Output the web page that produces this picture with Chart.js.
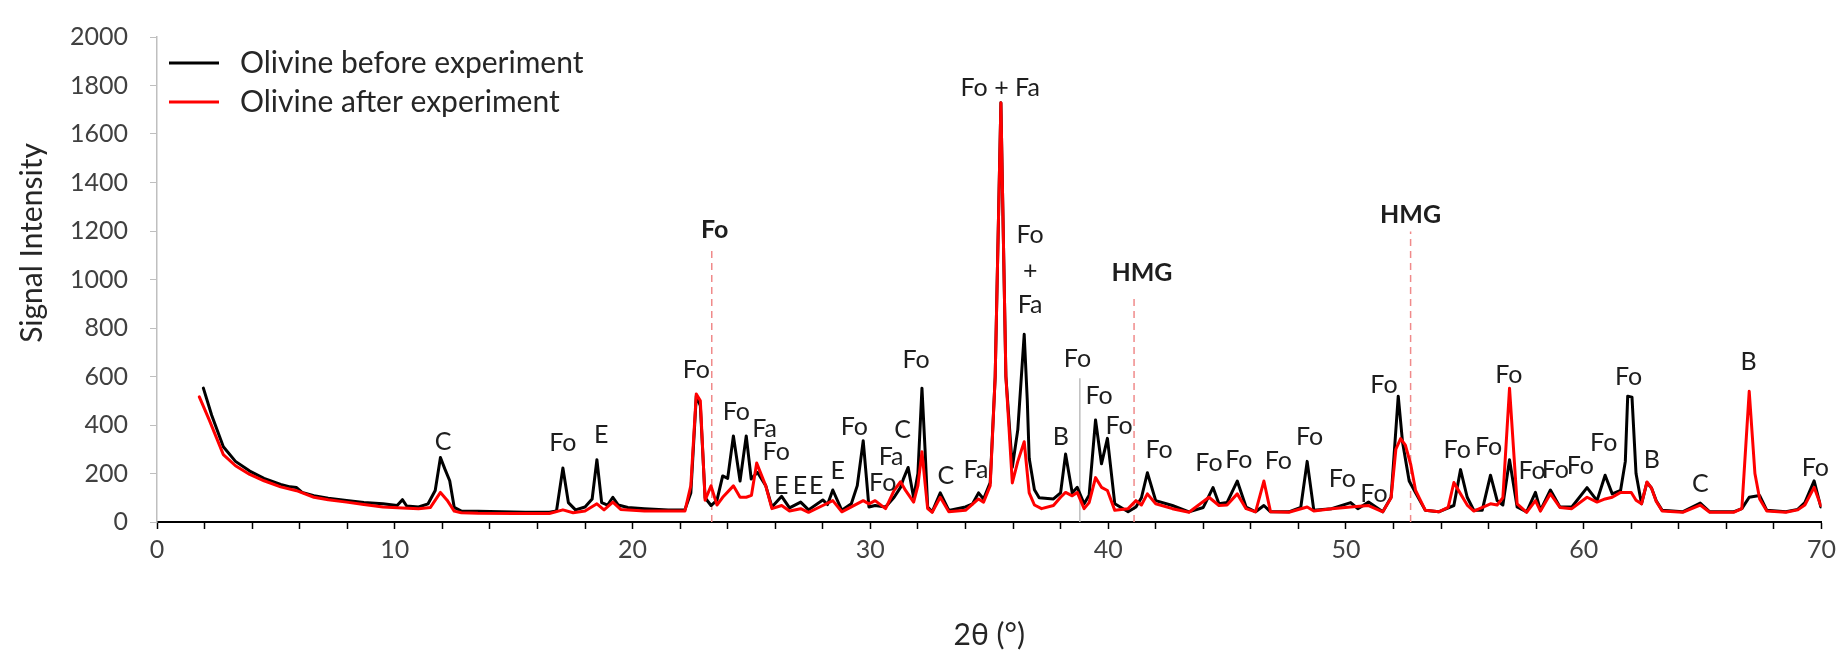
<!DOCTYPE html>
<html>
<head>
<meta charset="utf-8">
<title>Olivine XRD</title>
<script src="https://cdn.jsdelivr.net/npm/chart.js@4.4.1/dist/chart.umd.min.js"></script>
<style>
  html, body { margin: 0; padding: 0; background: #fff; }
  #wrap { width: 1842px; height: 653px; }
</style>
</head>
<body>
<div id="wrap"><canvas id="xrd"></canvas></div>
<script>
// ---- diffractogram, olivine before experiment (2θ in °, counts) ----
const beforeTheta = [1.95, 2.3, 2.79, 3.3, 3.9, 4.5, 5.2, 5.6, 5.87, 6.1, 6.6, 7.2, 7.97, 8.7, 9.5, 10.1, 10.32, 10.5,
  11.0, 11.4, 11.7, 11.92, 12.1, 12.31, 12.5, 12.8, 13.5, 14.5, 15.5, 16.5, 16.8, 17.07, 17.3, 17.6, 18.0, 18.3, 18.5,
  18.7, 18.95, 19.17, 19.4, 19.8, 20.5, 21.5, 22.2, 22.45, 22.68, 22.85, 23.05, 23.3, 23.55, 23.79, 24.0, 24.24, 24.52,
  24.78, 24.99, 25.25, 25.6, 25.86, 26.27, 26.6, 27.07, 27.4, 28.0, 28.2, 28.42, 28.8, 29.2, 29.45, 29.7, 29.94, 30.2,
  30.64, 31.0, 31.27, 31.4, 31.59, 31.82, 32.0, 32.17, 32.3, 32.41, 32.6, 32.94, 33.3, 34.0, 34.3, 34.55, 34.76, 35.04,
  35.25, 35.49, 35.7, 35.97, 36.2, 36.47, 36.6, 36.68, 36.9, 37.1, 37.7, 38.0, 38.21, 38.49, 38.7, 38.99, 39.2, 39.47,
  39.72, 39.97, 40.28, 40.84, 41.17, 41.4, 41.65, 42.0, 42.7, 43.4, 44.0, 44.41, 44.66, 45.0, 45.43, 45.8, 46.2, 46.55,
  46.83, 47.6, 48.1, 48.37, 48.65, 49.4, 50.2, 50.5, 50.95, 51.55, 51.9, 52.2, 52.38, 52.66, 52.93, 53.34, 53.9, 54.54,
  54.82, 55.1, 55.38, 55.73, 56.08, 56.36, 56.6, 56.88, 57.2, 57.6, 57.97, 58.18, 58.6, 59.0, 59.5, 60.14, 60.56, 60.9,
  61.2, 61.55, 61.75, 61.85, 62.03, 62.2, 62.43, 62.66, 62.85, 63.05, 63.3, 64.16, 64.9, 65.3, 66.3, 66.65, 66.96, 67.4,
  67.7, 68.5, 69.0, 69.3, 69.69, 69.97];
const beforeCounts = [552, 440, 310, 250, 210, 180, 155, 145, 142, 122, 108, 98, 89, 80, 75, 68, 92, 66,
  62, 75, 130, 266, 220, 170, 60, 45, 44, 42, 40, 40, 45, 223, 80, 50, 62, 95, 257,
  80, 70, 102, 70, 60, 55, 50, 50, 120, 520, 480, 100, 68, 90, 190, 180, 355, 169,
  355, 177, 205, 150, 62, 106, 58, 82, 50, 91, 72, 132, 48, 75, 150, 335, 62, 68,
  62, 102, 143, 180, 225, 100, 200, 552, 300, 62, 42, 120, 48, 62, 75, 120, 95, 163,
  600, 1729, 600, 226, 380, 774, 500, 263, 133, 100, 95, 120, 280, 120, 143, 75, 110, 421,
  240, 345, 75, 42, 62, 100, 203, 88, 68, 42, 60, 142, 75, 80, 169, 62, 42, 68,
  42, 42, 60, 250, 48, 55, 80, 55, 82, 42, 102, 519, 330, 169, 120, 48, 42, 68,
  216, 102, 48, 48, 193, 88, 70, 257, 62, 42, 122, 48, 132, 62, 62, 142, 88, 193,
  116, 130, 250, 519, 515, 200, 75, 163, 140, 88, 48, 42, 78, 42, 42, 55, 102, 109,
  48, 42, 52, 80, 170, 62];

// ---- olivine after experiment ----
const afterTheta = [1.78, 2.2, 2.79, 3.3, 3.9, 4.5, 5.2, 5.87, 6.6, 7.2, 7.97, 8.7, 9.5, 10.32, 11.0, 11.5, 11.92,
  12.2, 12.5, 12.8, 13.5, 15.0, 16.5, 17.07, 17.5, 18.0, 18.5, 18.8, 19.17, 19.5, 20.5, 22.2, 22.45, 22.68, 22.85,
  23.05, 23.3, 23.55, 23.79, 24.24, 24.52, 24.78, 25.0, 25.22, 25.6, 25.86, 26.27, 26.6, 27.07, 27.4, 28.0, 28.42,
  28.8, 29.7, 29.94, 30.2, 30.64, 31.0, 31.27, 31.48, 31.82, 32.0, 32.17, 32.3, 32.41, 32.6, 32.94, 33.3, 34.0, 34.55,
  34.76, 35.04, 35.25, 35.49, 35.7, 35.97, 36.2, 36.47, 36.68, 36.9, 37.2, 37.7, 38.0, 38.21, 38.49, 38.7, 38.99,
  39.2, 39.47, 39.72, 39.97, 40.28, 40.84, 41.17, 41.4, 41.65, 42.0, 42.7, 43.4, 44.24, 44.66, 45.0, 45.43, 45.8,
  46.2, 46.55, 46.83, 47.6, 48.37, 48.65, 49.4, 50.2, 50.95, 51.55, 51.9, 52.1, 52.3, 52.5, 52.73, 52.93, 53.34,
  53.9, 54.3, 54.54, 54.82, 55.1, 55.38, 56.08, 56.36, 56.6, 56.88, 57.2, 57.6, 57.97, 58.18, 58.6, 59.0, 59.5,
  60.14, 60.56, 60.9, 61.2, 61.55, 62.0, 62.2, 62.43, 62.66, 62.85, 63.05, 63.3, 64.16, 64.9, 65.3, 66.3, 66.65,
  66.96, 67.2, 67.4, 67.7, 68.5, 69.0, 69.3, 69.69, 69.97];
const afterCounts = [516, 420, 278, 232, 196, 170, 145, 129, 102, 92, 82, 72, 62, 58, 55, 60, 122,
  90, 45, 38, 36, 35, 35, 50, 38, 45, 75, 50, 82, 52, 45, 45, 150, 528, 500,
  90, 149, 70, 102, 149, 102, 102, 110, 243, 149, 55, 68, 45, 55, 40, 68, 88,
  42, 88, 75, 88, 55, 130, 166, 130, 82, 150, 290, 160, 55, 40, 102, 42, 48, 95,
  82, 150, 600, 1729, 600, 161, 250, 331, 120, 70, 55, 68, 102, 122, 108, 122, 55,
  80, 183, 143, 130, 48, 55, 88, 70, 116, 75, 55, 40, 102, 68, 70, 116, 55,
  42, 169, 42, 40, 62, 45, 55, 62, 68, 42, 100, 300, 344, 317, 235, 130, 48,
  42, 60, 163, 116, 70, 45, 75, 70, 100, 552, 75, 40, 88, 45, 116, 60, 55,
  102, 82, 95, 102, 122, 122, 90, 75, 165, 140, 85, 45, 40, 70, 40, 40, 55,
  539, 200, 95, 45, 40, 50, 70, 143, 68];

// phase reference lines (dashed) and the thin grey marker
const refTheta = [23.33, 41.09, 52.72];
const refTop = [1125, 929, 1198];
const greyTheta = [38.81];
const greyTop = [593];

// axis ticks
const xTickValues = [0, 10, 20, 30, 40, 50, 60, 70];
const yTickValues = [0, 200, 400, 600, 800, 1000, 1200, 1400, 1600, 1800, 2000];

// peak assignments: [text, 2θ, intensity where the label sits]
const peakLabels = [
  ['C', 12.03, 331], ['Fo', 17.07, 324], ['E', 18.68, 358], ['Fo', 22.68, 626],
  ['Fo', 24.36, 452], ['Fa', 25.55, 384], ['Fo', 26.04, 290], ['E', 26.25, 149],
  ['E', 27.04, 149], ['E', 27.72, 149], ['E', 28.63, 210], ['Fo', 29.33, 391],
  ['Fo', 30.52, 163], ['Fa', 30.87, 270], ['C', 31.36, 378], ['Fo', 31.92, 667],
  ['C', 33.18, 190], ['Fa', 34.44, 216], ['Fo + Fa', 35.46, 1789],
  ['Fo', 36.72, 1185], ['+', 36.72, 1036], ['Fa', 36.72, 895],
  ['B', 38.01, 351], ['Fo', 38.71, 673], ['Fo', 39.62, 519], ['Fo', 40.46, 398],
  ['Fo', 42.14, 297], ['Fo', 44.24, 243], ['Fo', 45.5, 257], ['Fo', 47.16, 250],
  ['Fo', 48.47, 351], ['Fo', 49.85, 176], ['Fo', 51.18, 116], ['Fo', 51.6, 566],
  ['Fo', 54.68, 297], ['Fo', 56.0, 310], ['Fo', 56.85, 606], ['Fo', 57.83, 210],
  ['Fo', 58.81, 216], ['Fo', 59.86, 230], ['Fo', 60.84, 324], ['Fo', 61.89, 600],
  ['B', 62.86, 257], ['C', 64.9, 156], ['B', 66.93, 660], ['Fo', 69.74, 223]
];
const boldLabels = [['Fo', 23.45, 1206], ['HMG', 41.42, 1029], ['HMG', 52.72, 1266]];

const pts = (xs, ys) => xs.map((t, i) => ({ x: t, y: ys[i] }));
const vline = (t, top) => [{ x: t, y: 0 }, { x: t, y: top }];

Chart.defaults.font.family = 'Lato, "Open Sans", sans-serif';

// labels, legend and the vertical axis title
const annotate = {
  id: 'annotate',
  afterDatasetsDraw(chart) {
    const { ctx, scales: { x, y } } = chart;
    ctx.save();
    ctx.textAlign = 'center';
    ctx.textBaseline = 'middle';
    ctx.fillStyle = '#1e1e1e';
    ctx.font = '25px Lato';
    peakLabels.forEach(([t, v, i]) => ctx.fillText(t, x.getPixelForValue(v), y.getPixelForValue(i)));
    ctx.font = 'bold 25px Lato';
    boldLabels.forEach(([t, v, i]) => ctx.fillText(t, x.getPixelForValue(v), y.getPixelForValue(i)));

    // legend
    const rows = [['Olivine before experiment', '#000000', 63], ['Olivine after experiment', '#ff0000', 102]];
    ctx.textAlign = 'left';
    ctx.font = '30px Lato';
    rows.forEach(([txt, col, yy]) => {
      ctx.strokeStyle = col;
      ctx.lineWidth = 3;
      ctx.beginPath();
      ctx.moveTo(169, yy);
      ctx.lineTo(219, yy);
      ctx.stroke();
      ctx.fillStyle = '#262626';
      ctx.fillText(txt, 240, yy);
    });

    // y title
    ctx.translate(32, 243);
    ctx.rotate(-Math.PI / 2);
    ctx.textAlign = 'center';
    ctx.font = '30px Lato';
    ctx.fillText('Signal Intensity', 0, 0);
    ctx.restore();
  }
};

new Chart(document.getElementById('xrd').getContext('2d'), {
  type: 'line',
  data: {
    datasets: [
      { label: 'Olivine after experiment', data: pts(afterTheta, afterCounts),
        borderColor: '#ff0000', borderWidth: 3, pointRadius: 0, tension: 0,
        borderJoinStyle: 'round', borderCapStyle: 'round' },
      { label: 'Olivine before experiment', data: pts(beforeTheta, beforeCounts),
        borderColor: '#000000', borderWidth: 3, pointRadius: 0, tension: 0,
        borderJoinStyle: 'round', borderCapStyle: 'round' },
      ...refTheta.map((t, i) => ({ data: vline(t, refTop[i]), borderColor: '#f08a8a',
        borderWidth: 1.5, borderDash: [7, 5], pointRadius: 0 })),
      ...greyTheta.map((t, i) => ({ data: vline(t, greyTop[i]), borderColor: '#bdbdbd',
        borderWidth: 1.5, pointRadius: 0 }))
    ]
  },
  options: {
    responsive: true, maintainAspectRatio: false, animation: false,
    layout: { padding: { left: 0, right: 19, top: 26, bottom: 0 } },
    plugins: { legend: { display: false }, tooltip: { enabled: false } },
    scales: {
      x: {
        type: 'linear', min: 0, max: 70,
        ticks: { stepSize: 2, autoSkip: false, maxRotation: 0, padding: 6,
          color: '#404040', font: { size: 25 },
          callback: v => xTickValues.includes(v) ? String(v) : '' },
        grid: { drawOnChartArea: false, tickLength: 7, color: '#000', tickWidth: 1.5 },
        border: { color: '#000', width: 2 },
        title: { display: true, text: '2θ (°)', color: '#262626', font: { size: 30 }, padding: { top: 0, bottom: 0 } },
        afterFit: s => { s.height = 131; }
      },
      y: {
        min: 0, max: 2000,
        afterBuildTicks: s => { s.ticks = yTickValues.map(v => ({ value: v })); },
        ticks: { padding: 22, color: '#404040', font: { size: 25 }, callback: v => String(v) },
        grid: { drawOnChartArea: false, tickLength: 7, color: '#bfbfbf' },
        border: { color: '#bfbfbf', width: 1.5 },
        afterFit: s => { s.width = 157; }
      }
    }
  },
  plugins: [annotate]
});
</script>
</body>
</html>
